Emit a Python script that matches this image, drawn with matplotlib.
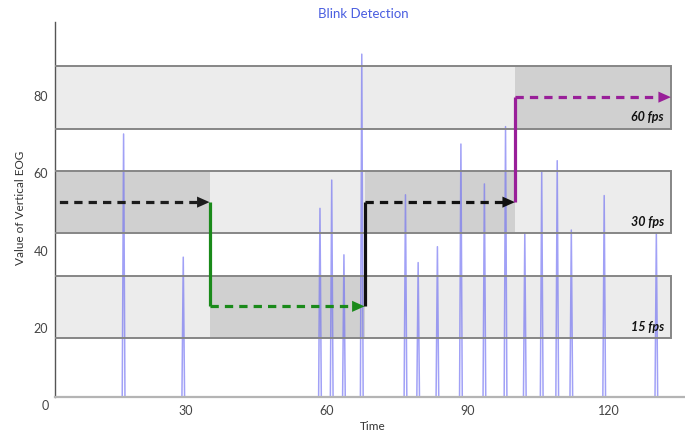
import matplotlib
matplotlib.use('Agg')
import matplotlib.pyplot as plt
from matplotlib.patches import Rectangle

plt.rcParams['font.family'] = ['Lato', 'DejaVu Sans']

# blink spikes: time and peak value of vertical EOG
blink_t = [16.7, 29.4, 58.5, 61.0, 63.6, 67.4, 76.7, 79.4, 83.5, 88.5,
           93.5, 98.0, 102.1, 105.7, 109.0, 112.0, 119.0, 130.1]
blink_v = [70.2, 38.4, 51.0, 58.3, 39.0, 90.8, 54.5, 37.0, 41.1, 67.6,
           57.3, 72.1, 44.6, 60.5, 63.3, 45.4, 54.3, 44.6]

# frame-rate bands (bottom, top) and active time intervals
band_names = ['15 fps', '30 fps', '60 fps']
band_low = [17.6, 44.7, 71.6]
band_high = [33.6, 60.6, 87.7]
band_end = 133.2
active = {
    '15 fps': [(35, 68)],
    '30 fps': [(0, 35), (68, 100)],
    '60 fps': [(100, 133.2)],
}

# switching path: (x_start, x_end, level, colour)
path_level = [52.6, 25.7, 52.6, 79.7]
path_x = [0, 35, 68, 100, 133.2]
path_col = ['#1c1c1c', '#1a8a1a', '#111111', '#991f99']

fig = plt.figure(figsize=(6.85, 4.33), dpi=100)
W, H = 685, 433
ax = fig.add_axes([55 / W, 36 / H, (685 - 55) / W, (397 - 22) / H])
ax.set_xlim(2.1, 136.2)
ax.set_ylim(2.3, 99.1)

# bands
for name, lo, hi in zip(band_names, band_low, band_high):
    ax.add_patch(Rectangle((0, lo), band_end, hi - lo, facecolor='#ececec',
                           edgecolor='none', zorder=1))
    for a, b in active[name]:
        ax.add_patch(Rectangle((a, lo), b - a, hi - lo, facecolor='#d0d0d0',
                               edgecolor='none', zorder=1.1))
    ax.add_patch(Rectangle((0, lo), band_end, hi - lo, facecolor='none',
                           edgecolor='#868686', linewidth=1.4, zorder=3))
    ax.annotate(name, xy=(band_end, lo), xytext=(-5, 8), textcoords='offset points',
                ha='right', va='center', fontsize=9, fontweight='bold',
                fontstyle='italic', color='#111111', zorder=5)

# spikes
for t, v in zip(blink_t, blink_v):
    ax.plot([t - 0.3, t, t + 0.3], [0, v, 0], color='#6f6ff2', lw=1.1,
            alpha=0.65, zorder=2)

# frame-rate switching path
for i in range(4):
    x0, x1 = path_x[i], path_x[i + 1]
    y = path_level[i]
    c = path_col[i]
    if i > 0:
        ax.plot([x0, x0], [path_level[i - 1], y], color=c, lw=2.3,
                solid_capstyle='butt', zorder=4)
    ax.plot([x0, x1 - 2.2], [y, y], color=c, lw=2.3, dashes=(2.6, 1.9), zorder=4)
    ax.annotate('', xy=(x1, y), xytext=(x1 - 3, y),
                arrowprops=dict(arrowstyle='-|>,head_length=0.9,head_width=0.4',
                                color=c, lw=0, shrinkA=0, shrinkB=0), zorder=4)

# axes styling
for s in ['top', 'right']:
    ax.spines[s].set_visible(False)
ax.spines['bottom'].set_color('#b4b4b4')
ax.spines['bottom'].set_linewidth(1.6)
ax.spines['left'].set_color('#555555')
ax.spines['left'].set_linewidth(1.0)
ax.set_xticks([30, 60, 90, 120])
ax.set_yticks([20, 40, 60, 80])
ax.tick_params(length=0, labelsize=9, colors='#444444', pad=6)
ax.tick_params(axis='y', pad=5)
ax.text(0, 0, '0', ha='center', va='center', fontsize=9, color='#444444',
        clip_on=False)

fig.text(363.5 / W, 1 - 14 / H, 'Blink Detection', ha='center', va='center',
         fontsize=9.5, color='#4a5ee0')
fig.text(373 / W, 1 - 426 / H, 'Time', ha='center', va='center',
         fontsize=8.5, color='#333333')
fig.text(21 / W, 1 - 207.5 / H, 'Value of Vertical EOG', ha='center', va='center',
         rotation=90, fontsize=8.5, color='#333333')

fig.savefig('out.png', dpi=100)
